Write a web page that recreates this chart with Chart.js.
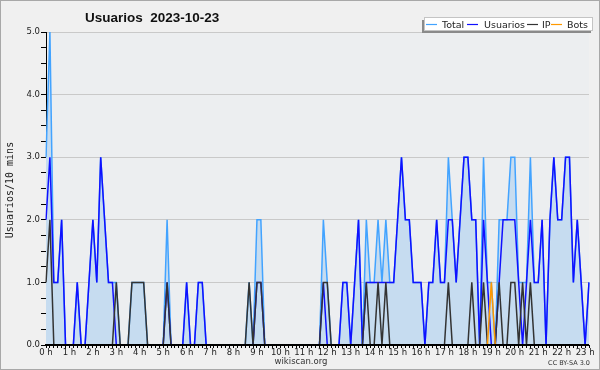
<!doctype html>
<html>

<head>
	<meta charset="utf-8">
	<title>Usuarios 2023-10-23</title>
	<script src="https://cdn.jsdelivr.net/npm/chart.js@4.4.0/dist/chart.umd.min.js"></script>
	<style>
		body { margin: 0; background: #fff; }
		canvas { display: block; }
	</style>
</head>

<body>
	<canvas id="chart-area" width="600" height="370"></canvas>

	<script>
		// one value every 10 minutes, 0:00 .. 23:10
		var hours = ['0 h', '1 h', '2 h', '3 h', '4 h', '5 h', '6 h', '7 h', '8 h', '9 h', '10 h', '11 h',
			'12 h', '13 h', '14 h', '15 h', '16 h', '17 h', '18 h', '19 h', '20 h', '21 h', '22 h', '23 h'];

		var total = [
			3, 5, 1, 1, 2, 0, 0, 0, 1, 0, 0, 1,
			2, 1, 3, 2, 1, 1, 1, 0, 0, 0, 1, 1,
			1, 1, 0, 0, 0, 0, 0, 2, 0, 0, 0, 0,
			1, 0, 0, 1, 1, 0, 0, 0, 0, 0, 0, 0,
			0, 0, 0, 0, 1, 0, 2, 2, 0, 0, 0, 0,
			0, 0, 0, 0, 0, 0, 0, 0, 0, 0, 0, 2,
			1, 0, 0, 0, 1, 1, 0, 1, 2, 0, 2, 1,
			1, 2, 1, 2, 1, 1, 2, 3, 2, 2, 1, 1,
			1, 0, 1, 1, 2, 1, 1, 3, 2, 1, 2, 3,
			3, 2, 2, 0, 3, 1, 1, 0, 2, 2, 2, 3,
			3, 1, 1, 1, 3, 1, 1, 2, 0, 2, 3, 2,
			2, 3, 3, 1, 2, 1, 0, 1
		];
		var usuarios = [
			2, 3, 1, 1, 2, 0, 0, 0, 1, 0, 0, 1,
			2, 1, 3, 2, 1, 1, 0, 0, 0, 0, 0, 0,
			0, 0, 0, 0, 0, 0, 0, 1, 0, 0, 0, 0,
			1, 0, 0, 1, 1, 0, 0, 0, 0, 0, 0, 0,
			0, 0, 0, 0, 0, 0, 1, 1, 0, 0, 0, 0,
			0, 0, 0, 0, 0, 0, 0, 0, 0, 0, 0, 1,
			0, 0, 0, 0, 1, 1, 0, 1, 2, 0, 1, 1,
			1, 1, 1, 1, 1, 1, 2, 3, 2, 2, 1, 1,
			1, 0, 1, 1, 2, 1, 1, 2, 2, 1, 2, 3,
			3, 2, 2, 0, 2, 1, 0, 0, 1, 2, 2, 2,
			2, 1, 0, 1, 2, 1, 1, 2, 0, 2, 3, 2,
			2, 3, 3, 1, 2, 1, 0, 1
		];
		var ip = [
			1, 2, 0, 0, 0, 0, 0, 0, 0, 0, 0, 0,
			0, 0, 0, 0, 0, 0, 1, 0, 0, 0, 1, 1,
			1, 1, 0, 0, 0, 0, 0, 1, 0, 0, 0, 0,
			0, 0, 0, 0, 0, 0, 0, 0, 0, 0, 0, 0,
			0, 0, 0, 0, 1, 0, 1, 1, 0, 0, 0, 0,
			0, 0, 0, 0, 0, 0, 0, 0, 0, 0, 0, 1,
			1, 0, 0, 0, 0, 0, 0, 0, 0, 0, 1, 0,
			0, 1, 0, 1, 0, 0, 0, 0, 0, 0, 0, 0,
			0, 0, 0, 0, 0, 0, 0, 1, 0, 0, 0, 0,
			0, 1, 0, 0, 1, 0, 0, 0, 1, 0, 0, 1,
			1, 0, 1, 0, 1, 0, 0, 0, 0, 0, 0, 0,
			0, 0, 0, 0, 0, 0, 0, 0
		];
		var bots = [
			0, 0, 0, 0, 0, 0, 0, 0, 0, 0, 0, 0,
			0, 0, 0, 0, 0, 0, 0, 0, 0, 0, 0, 0,
			0, 0, 0, 0, 0, 0, 0, 0, 0, 0, 0, 0,
			0, 0, 0, 0, 0, 0, 0, 0, 0, 0, 0, 0,
			0, 0, 0, 0, 0, 0, 0, 0, 0, 0, 0, 0,
			0, 0, 0, 0, 0, 0, 0, 0, 0, 0, 0, 0,
			0, 0, 0, 0, 0, 0, 0, 0, 0, 0, 0, 0,
			0, 0, 0, 0, 0, 0, 0, 0, 0, 0, 0, 0,
			0, 0, 0, 0, 0, 0, 0, 0, 0, 0, 0, 0,
			0, 0, 0, 0, 0, 0, 1, 0, 0, 0, 0, 0,
			0, 0, 0, 0, 0, 0, 0, 0, 0, 0, 0, 0,
			0, 0, 0, 0, 0, 0, 0, 0
		];

		var colTotal = '#42a3ff', colUsuarios = '#1010ff', colIp = '#333333', colBots = '#ff9900';

		var slots = [];
		for (var i = 0; i < total.length; i++) {
			slots.push(Math.floor(i / 6) + ':' + (i % 6) + '0');
		}

		var decor = {
			id: 'decor',
			beforeDraw: function(chart) {
				var ctx = chart.ctx, a = chart.chartArea;
				ctx.save();
				ctx.fillStyle = '#f0f0f0';
				ctx.fillRect(0, 0, 600, 370);
				ctx.fillStyle = '#eceef0';
				ctx.fillRect(a.left, a.top, a.right - a.left, a.bottom - a.top);
				ctx.strokeStyle = '#a8a8a8';
				ctx.lineWidth = 1;
				ctx.strokeRect(0.5, 0.5, 599, 369);
				ctx.restore();
			},
			afterDatasetsDraw: function(chart) {
				// x axis goes over the series, as in the original
				var ctx = chart.ctx, a = chart.chartArea;
				var yb = Math.round(a.bottom);
				ctx.save();
				ctx.fillStyle = '#000';
				ctx.fillRect(a.left - 1, yb - 1, a.right - a.left + 1, 2);
				ctx.restore();
			},
			afterDraw: function(chart) {
				var ctx = chart.ctx;
				ctx.save();
				// title
				ctx.fillStyle = '#111';
				ctx.font = 'bold 13.5px "Liberation Sans", Arial, sans-serif';
				ctx.textBaseline = 'alphabetic';
				ctx.textAlign = 'left';
				ctx.fillText('Usuarios  2023-10-23', 85, 22);

				// y axis title
				ctx.save();
				ctx.translate(13, 190);
				ctx.rotate(-Math.PI / 2);
				ctx.font = '10px "DejaVu Sans Mono", monospace';
				ctx.textAlign = 'center';
				ctx.fillStyle = '#222';
				ctx.fillText('Usuarios/10 mins', 0, 0);
				ctx.restore();

				// legend box
				ctx.fillStyle = '#8a8a8a';
				ctx.fillRect(422, 20, 169, 13);
				ctx.fillStyle = '#fff';
				ctx.fillRect(424, 17, 169, 14);
				ctx.strokeStyle = '#c4c4c4';
				ctx.strokeRect(424.5, 17.5, 168, 13);
				var items = [
					[colTotal, 426, 'Total', 442],
					[colUsuarios, 467, 'Usuarios', 484],
					[colIp, 527, 'IP', 542],
					[colBots, 551, 'Bots', 567]
				];
				ctx.font = '9.5px "DejaVu Sans", sans-serif';
				items.forEach(function(it) {
					ctx.strokeStyle = it[0];
					ctx.lineWidth = 1.2;
					ctx.beginPath();
					ctx.moveTo(it[1], 24.5);
					ctx.lineTo(it[1] + 11, 24.5);
					ctx.stroke();
					ctx.fillStyle = '#222';
					ctx.fillText(it[2], it[3], 28);
				});

				// footer
				ctx.fillStyle = '#333';
				ctx.font = '8.5px "DejaVu Sans", sans-serif';
				ctx.textAlign = 'center';
				ctx.fillText('wikiscan.org', 301, 364);
				ctx.font = '6.5px "DejaVu Sans", sans-serif';
				ctx.textAlign = 'right';
				ctx.fillText('CC BY-SA 3.0', 590, 365);
				ctx.restore();
			}
		};

		function line(label, data, color, order, extra) {
			var ds = {
				label: label,
				data: data,
				borderColor: color,
				borderWidth: 1.5,
				pointRadius: 0,
				tension: 0,
				fill: false,
				order: order
			};
			for (var k in extra) ds[k] = extra[k];
			return ds;
		}

		var ctx = document.getElementById('chart-area').getContext('2d');
		window.myChart = new Chart(ctx, {
			type: 'line',
			data: {
				labels: slots,
				datasets: [
					line('Total', total, colTotal, 4, { fill: 'origin', backgroundColor: '#c6dcf0' }),
					line('Usuarios', usuarios, colUsuarios, 3),
					line('IP', ip, colIp, 2),
					line('Bots', bots, colBots, 1)
				]
			},
			options: {
				responsive: false,
				animation: false,
				layout: { padding: { top: 32, right: 11, left: 0, bottom: 0 } },
				plugins: {
					legend: { display: false },
					title: { display: false },
					tooltip: { enabled: false }
				},
				scales: {
					x: {
						type: 'category',
						offset: false,
						afterFit: function(s) { s.height = 25; },
						grid: {
							display: true,
							drawOnChartArea: false,
							drawTicks: true,
							tickLength: 3,
							tickColor: '#000'
						},
						border: { display: true, color: '#000', width: 1 },
						ticks: {
							autoSkip: false,
							maxRotation: 0,
							minRotation: 0,
							padding: 0,
							color: '#222',
							font: { family: '"DejaVu Sans", sans-serif', size: 8.5 },
							callback: function(value, index) {
								return index % 6 === 0 ? hours[index / 6] : '';
							}
						}
					},
					y: {
						min: 0,
						max: 5,
						afterFit: function(s) { s.width = 46; },
						grid: {
							color: function(c) {
								return c.tick && c.tick.value % 1 === 0 ? '#c9c9c9' : 'rgba(0,0,0,0)';
							},
							tickColor: '#000',
							tickLength: 5,
							drawTicks: true
						},
						border: { display: true, color: '#000', width: 1 },
						ticks: {
							stepSize: 0.25,
							autoSkip: false,
							padding: 1,
							color: '#222',
							font: { family: '"DejaVu Sans", sans-serif', size: 8.5 },
							callback: function(v) {
								return v % 1 === 0 ? v.toFixed(1) : '';
							}
						}
					}
				}
			},
			plugins: [decor]
		});
	</script>
</body>

</html>
